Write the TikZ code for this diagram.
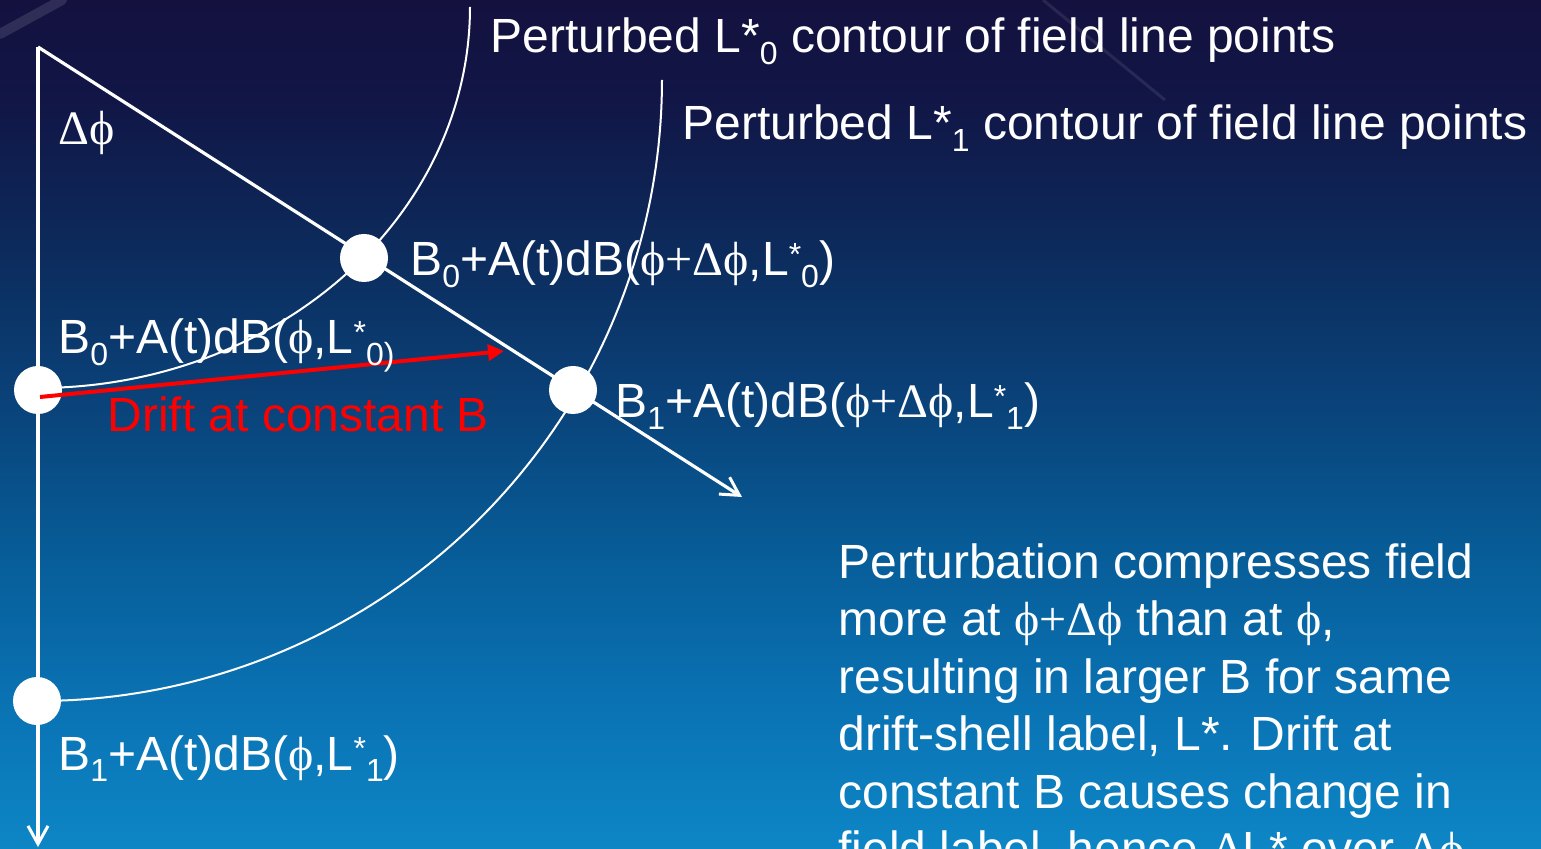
\documentclass[tikz,border=0pt]{standalone}
\usepackage{fontspec}
\setmainfont{Liberation Sans}
\newfontfamily\symfont{Liberation Serif}
\usepackage{xcolor}
\usepackage{tikz}
\usetikzlibrary{arrows.meta}
\definecolor{bgtop}{HTML}{14113F}
\definecolor{bga}{HTML}{111646}
\definecolor{bgb}{HTML}{0C2B5C}
\definecolor{bgc}{HTML}{0A4279}
\definecolor{bgd}{HTML}{075C97}
\definecolor{bge}{HTML}{0A72B3}
\definecolor{bgf}{HTML}{0D86C6}
\definecolor{streakgray}{HTML}{3B3A62}
\definecolor{driftred}{HTML}{FF0000}
\pgfdeclareverticalshading{slidebg}{100bp}{color(0bp)=(bgf); color(25bp)=(bgf); color(33.8bp)=(bge); color(42.6bp)=(bgd); color(51.4bp)=(bgc); color(60.3bp)=(bgb); color(69.1bp)=(bga); color(75bp)=(bgtop); color(100bp)=(bgtop)}
\newcommand{\gphi}{{\symfont\iffontchar\font"03D5\relax\char"03D5\else\char"03C6\fi}}
\newcommand{\gdelta}{{\symfont Δ}}
\newcommand{\gplus}{{\symfont +}}
\newcommand{\subx}[1]{\raisebox{-0.24em}{\fontsize{16}{16}\selectfont #1}}
\newcommand{\supx}[1]{\raisebox{0.22em}{\fontsize{16}{16}\selectfont #1}}
\tikzset{
  dotnode/.style={circle,fill=white,inner sep=0pt,minimum size=24pt},
  axisline/.style={draw=white,line width=1.6pt,-{Straight Barb[length=9pt,width=10pt,line width=1.5pt]}},
  contour/.style={draw=white,line width=1pt},
  driftarrow/.style={draw=driftred,line width=2pt,-{Triangle[length=8pt,width=8pt]}},
  lbl/.style={anchor=base west,inner sep=0pt,text=white,font=\fontsize{24}{29}\selectfont},
}

\begin{document}
\begin{tikzpicture}[x=0.5pt,y=-0.5pt]
    \shade[shading=slidebg] (0,0) rectangle (1541,849);
    \useasboundingbox (0,0) rectangle (1541,849);
    \clip (0,0) rectangle (1541,849);
    % slide template streaks
    \draw[line width=5pt,streakgray,opacity=0.7,line cap=round] (0,34) -- (62,0);
    \draw[line width=1.5pt,white,opacity=0.09] (1043,0) -- (1165,100);
    % phi axes
    \coordinate (apex) at (38,47);
    \coordinate (vend) at (38,847);
    \coordinate (dend) at (742,497);
    \draw[axisline] (apex) -- (vend);
    \draw[axisline] (apex) -- (dend);
    % perturbed contours
    \draw[contour] plot[domain=0:90,samples=90] ({38+432*cos(\x)},{7+381*sin(\x)});
    \draw[contour] plot[domain=0:90,samples=90] ({38+624*cos(\x)},{80+621*sin(\x)});
    \node[dotnode] (b0phi) at (38,390) {};
    \node[dotnode] (b0dphi) at (364,258) {};
    \node[dotnode] (b1dphi) at (573,390) {};
    \node[dotnode] (b1phi) at (37,701) {};
    \coordinate (drifttip) at (504,351);
    \draw[driftarrow] (40,397) -- (drifttip);
    \node[lbl] (dphi) at (58,145) {\gdelta\gphi};
    \node[lbl] (toplab) at (490,53) {Perturbed L*\subx{0} contour of field line points};
    \node[lbl] (midlab) at (682,140) {Perturbed L*\subx{1} contour of field line points};
    \node[lbl] (labA) at (410,276) {B\subx{0}+A(t)dB(\gphi\gplus\gdelta\gphi,L\supx{*}\subx{0})};
    \node[lbl] (labB) at (58,354) {B\subx{0}+A(t)dB(\gphi,L\supx{*}\subx{0)}};
    \node[lbl,text=driftred] (driftlab) at (107,432) {Drift at constant B};
    \node[lbl] (labC) at (615,418) {B\subx{1}+A(t)dB(\gphi\gplus\gdelta\gphi,L\supx{*}\subx{1})};
    \node[lbl] (labD) at (58,770) {B\subx{1}+A(t)dB(\gphi,L\supx{*}\subx{1})};
    \node[lbl,anchor=north west,align=left,font=\fontsize{24}{28.75}\selectfont] (note) at (838,543)
      {Perturbation compresses field\\more at \gphi\gplus\gdelta\gphi{} than at \gphi,\\resulting in larger B for same\\drift-shell label, L*. Drift at\\constant B causes change in\\field label, hence \gdelta L* over \gdelta\gphi};
  \end{tikzpicture}
\end{document}
